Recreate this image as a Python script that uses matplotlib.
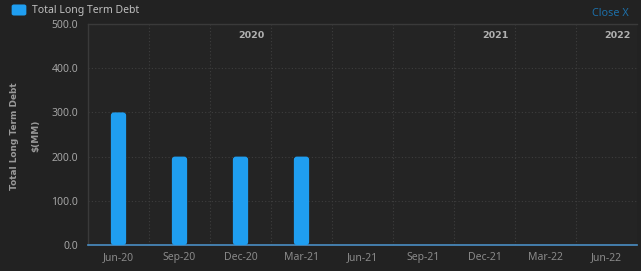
import matplotlib
matplotlib.use("Agg")
import matplotlib.pyplot as plt
import numpy as np
from matplotlib.patches import FancyBboxPatch

plt.rcParams["font.family"] = ["Noto Sans", "DejaVu Sans"]

categories = ["Jun-20", "Sep-20", "Dec-20", "Mar-21", "Jun-21", "Sep-21", "Dec-21", "Mar-22", "Jun-22"]
values = [300.0, 200.0, 200.0, 200.0, np.nan, np.nan, np.nan, np.nan, np.nan]
y_ticks = [0, 100, 200, 300, 400, 500]
years = ["2020", "2021", "2022"]
year_last_index = [2, 6, 8]

W, H = 641, 271
fig = plt.figure(figsize=(W / 100, H / 100), dpi=100)
fig.patch.set_facecolor("#222222")
ax = fig.add_axes([88 / W, (H - 245) / H, 549 / W, 221 / H])
ax.set_facecolor("#242424")

x = np.arange(len(categories))
bars = ax.bar(x, np.nan_to_num(values), width=0.25, color="#1f9ef0", zorder=3)
px_x = 549 / len(categories)   # px per x unit
px_y = 221 / 500               # px per y unit
for b, v in zip(bars, values):
    b.set_visible(False)
    if np.isnan(v):
        continue
    fb = FancyBboxPatch((b.get_x(), b.get_y()), b.get_width(), b.get_height(),
                        boxstyle="round,pad=0,rounding_size=%f" % (3 / px_x),
                        mutation_aspect=px_x / px_y,
                        fc="#1f9ef0", ec="none", zorder=3)
    ax.add_patch(fb)

ax.set_xlim(-0.5, len(categories) - 0.5)
ax.set_ylim(0, 500)
ax.set_yticks(y_ticks)
ax.set_yticklabels([f"{v:.1f}" for v in y_ticks], color="#a4a4a4", fontsize=7.5)
ax.set_xticks(x)
ax.set_xticklabels(categories, color="#8a8a8a", fontsize=7.5)
ax.tick_params(axis="both", length=0)
ax.tick_params(axis="y", pad=7)
ax.tick_params(axis="x", pad=5)

ax.set_xticks(np.arange(len(categories) - 1) + 0.5, minor=True)
ax.grid(axis="x", which="minor", color="#3e3e3e", linestyle=(0, (1, 2)), linewidth=0.8)
ax.grid(axis="y", which="major", color="#3e3e3e", linestyle=(0, (1, 2)), linewidth=0.8)
ax.tick_params(axis="x", which="minor", length=0)

for s in ["top", "left"]:
    ax.spines[s].set_color("#3a3a3a")
    ax.spines[s].set_linewidth(1)
ax.spines["right"].set_visible(False)
ax.spines["bottom"].set_color("#4a8ec4")
ax.spines["bottom"].set_linewidth(1.2)

for yr, idx in zip(years, year_last_index):
    ax.text(idx + 0.5 - 0.11, 475, yr, ha="right", va="center", fontsize=6.8,
            fontweight="bold", family="DejaVu Sans", color="#b0b0b0", zorder=4)

fig.text(15 / W, 135 / H, "Total Long Term Debt", rotation=90, ha="center", va="center",
         fontsize=6.4, fontweight="bold", family="DejaVu Sans", color="#9a9a9a")
fig.text(36 / W, 135 / H, "$(MM)", rotation=90, ha="center", va="center",
         fontsize=6.4, fontweight="bold", family="DejaVu Sans", color="#9a9a9a")

# legend
leg = fig.add_axes([11 / W, (H - 16) / H, 16 / W, 12 / H])
leg.axis("off")
leg.add_patch(FancyBboxPatch((0.04, 0.04), 0.92, 0.92, boxstyle="round,pad=0,rounding_size=0.15",
                             fc="#1f9ef0", ec="none", transform=leg.transAxes))
fig.text(32 / W, (H - 11) / H, "Total Long Term Debt", ha="left", va="center",
         fontsize=7.5, color="#c0c0c0")
fig.text(629 / W, (H - 13) / H, "Close X", ha="right", va="center",
         fontsize=7.8, color="#1d6fa8")

fig.savefig("out.png", dpi=100, facecolor=fig.get_facecolor())
